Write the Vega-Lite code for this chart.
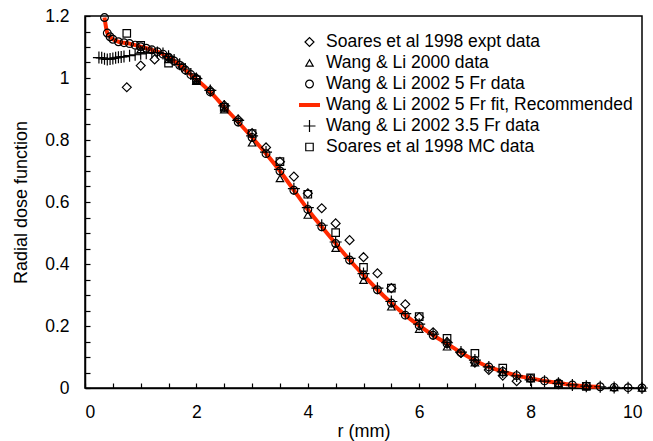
{
  "$schema": "https://vega.github.io/schema/vega-lite/v6.json",
  "width": 557,
  "height": 372,
  "autosize": {"type": "none"},
  "padding": {"left": 85, "top": 16, "right": 11, "bottom": 53},
  "background": "white",
  "config": {
    "view": {"stroke": "black", "strokeWidth": 1.5},
    "font": "Liberation Sans",
    "axis": {
      "grid": false,
      "domainColor": "black",
      "domainWidth": 1.5,
      "tickColor": "black",
      "tickWidth": 1.2,
      "labelColor": "black",
      "labelFont": "Liberation Sans",
      "labelFontSize": 17.5,
      "titleFont": "Liberation Sans",
      "titleFontSize": 18,
      "titleFontWeight": "normal",
      "titleColor": "black"
    },
    "legend": {
      "title": null, "orient": "none", "legendX": 212, "legendY": 17,
      "labelFontSize": 17.5, "labelFont": "Liberation Sans", "labelColor": "black", "labelLimit": 400,
      "rowPadding": 3, "clipHeight": 18, "labelOffset": 4, "padding": 0
    }
  },
  "data": {
    "values": [
      {"series": "Wang & Li 2002 5 Fr fit, Recommended", "r": 0.35, "g": 1.195},
      {"series": "Wang & Li 2002 5 Fr fit, Recommended", "r": 0.4, "g": 1.145},
      {"series": "Wang & Li 2002 5 Fr fit, Recommended", "r": 0.45, "g": 1.133},
      {"series": "Wang & Li 2002 5 Fr fit, Recommended", "r": 0.5, "g": 1.125},
      {"series": "Wang & Li 2002 5 Fr fit, Recommended", "r": 0.6, "g": 1.117},
      {"series": "Wang & Li 2002 5 Fr fit, Recommended", "r": 0.7, "g": 1.114},
      {"series": "Wang & Li 2002 5 Fr fit, Recommended", "r": 0.8, "g": 1.111},
      {"series": "Wang & Li 2002 5 Fr fit, Recommended", "r": 0.9, "g": 1.106},
      {"series": "Wang & Li 2002 5 Fr fit, Recommended", "r": 1.0, "g": 1.101},
      {"series": "Wang & Li 2002 5 Fr fit, Recommended", "r": 1.1, "g": 1.096},
      {"series": "Wang & Li 2002 5 Fr fit, Recommended", "r": 1.2, "g": 1.091},
      {"series": "Wang & Li 2002 5 Fr fit, Recommended", "r": 1.3, "g": 1.085},
      {"series": "Wang & Li 2002 5 Fr fit, Recommended", "r": 1.4, "g": 1.077},
      {"series": "Wang & Li 2002 5 Fr fit, Recommended", "r": 1.5, "g": 1.067},
      {"series": "Wang & Li 2002 5 Fr fit, Recommended", "r": 1.6, "g": 1.055},
      {"series": "Wang & Li 2002 5 Fr fit, Recommended", "r": 1.7, "g": 1.041},
      {"series": "Wang & Li 2002 5 Fr fit, Recommended", "r": 1.8, "g": 1.026},
      {"series": "Wang & Li 2002 5 Fr fit, Recommended", "r": 1.9, "g": 1.011},
      {"series": "Wang & Li 2002 5 Fr fit, Recommended", "r": 2.0, "g": 0.996},
      {"series": "Wang & Li 2002 5 Fr fit, Recommended", "r": 2.25, "g": 0.955},
      {"series": "Wang & Li 2002 5 Fr fit, Recommended", "r": 2.5, "g": 0.906},
      {"series": "Wang & Li 2002 5 Fr fit, Recommended", "r": 2.75, "g": 0.858},
      {"series": "Wang & Li 2002 5 Fr fit, Recommended", "r": 3.0, "g": 0.808},
      {"series": "Wang & Li 2002 5 Fr fit, Recommended", "r": 3.25, "g": 0.756},
      {"series": "Wang & Li 2002 5 Fr fit, Recommended", "r": 3.5, "g": 0.700},
      {"series": "Wang & Li 2002 5 Fr fit, Recommended", "r": 3.75, "g": 0.638},
      {"series": "Wang & Li 2002 5 Fr fit, Recommended", "r": 4.0, "g": 0.576},
      {"series": "Wang & Li 2002 5 Fr fit, Recommended", "r": 4.25, "g": 0.520},
      {"series": "Wang & Li 2002 5 Fr fit, Recommended", "r": 4.5, "g": 0.466},
      {"series": "Wang & Li 2002 5 Fr fit, Recommended", "r": 4.75, "g": 0.413},
      {"series": "Wang & Li 2002 5 Fr fit, Recommended", "r": 5.0, "g": 0.364},
      {"series": "Wang & Li 2002 5 Fr fit, Recommended", "r": 5.25, "g": 0.317},
      {"series": "Wang & Li 2002 5 Fr fit, Recommended", "r": 5.5, "g": 0.274},
      {"series": "Wang & Li 2002 5 Fr fit, Recommended", "r": 5.75, "g": 0.235},
      {"series": "Wang & Li 2002 5 Fr fit, Recommended", "r": 6.0, "g": 0.201},
      {"series": "Wang & Li 2002 5 Fr fit, Recommended", "r": 6.25, "g": 0.170},
      {"series": "Wang & Li 2002 5 Fr fit, Recommended", "r": 6.5, "g": 0.143},
      {"series": "Wang & Li 2002 5 Fr fit, Recommended", "r": 6.75, "g": 0.114},
      {"series": "Wang & Li 2002 5 Fr fit, Recommended", "r": 7.0, "g": 0.089},
      {"series": "Wang & Li 2002 5 Fr fit, Recommended", "r": 7.25, "g": 0.068},
      {"series": "Wang & Li 2002 5 Fr fit, Recommended", "r": 7.5, "g": 0.053},
      {"series": "Wang & Li 2002 5 Fr fit, Recommended", "r": 7.75, "g": 0.040},
      {"series": "Wang & Li 2002 5 Fr fit, Recommended", "r": 8.0, "g": 0.031},
      {"series": "Wang & Li 2002 5 Fr fit, Recommended", "r": 8.25, "g": 0.023},
      {"series": "Wang & Li 2002 5 Fr fit, Recommended", "r": 8.5, "g": 0.016},
      {"series": "Wang & Li 2002 5 Fr fit, Recommended", "r": 8.75, "g": 0.010},
      {"series": "Wang & Li 2002 5 Fr fit, Recommended", "r": 9.0, "g": 0.006},
      {"series": "Wang & Li 2002 5 Fr fit, Recommended", "r": 9.25, "g": 0.004},

      {"series": "Wang & Li 2002 5 Fr data", "r": 0.35, "g": 1.195},
      {"series": "Wang & Li 2002 5 Fr data", "r": 0.4, "g": 1.145},
      {"series": "Wang & Li 2002 5 Fr data", "r": 0.45, "g": 1.133},
      {"series": "Wang & Li 2002 5 Fr data", "r": 0.5, "g": 1.125},
      {"series": "Wang & Li 2002 5 Fr data", "r": 0.6, "g": 1.117},
      {"series": "Wang & Li 2002 5 Fr data", "r": 0.7, "g": 1.114},
      {"series": "Wang & Li 2002 5 Fr data", "r": 0.8, "g": 1.111},
      {"series": "Wang & Li 2002 5 Fr data", "r": 0.9, "g": 1.106},
      {"series": "Wang & Li 2002 5 Fr data", "r": 1.0, "g": 1.101},
      {"series": "Wang & Li 2002 5 Fr data", "r": 1.1, "g": 1.096},
      {"series": "Wang & Li 2002 5 Fr data", "r": 1.2, "g": 1.091},
      {"series": "Wang & Li 2002 5 Fr data", "r": 1.3, "g": 1.085},
      {"series": "Wang & Li 2002 5 Fr data", "r": 1.4, "g": 1.077},
      {"series": "Wang & Li 2002 5 Fr data", "r": 1.5, "g": 1.067},
      {"series": "Wang & Li 2002 5 Fr data", "r": 1.6, "g": 1.055},
      {"series": "Wang & Li 2002 5 Fr data", "r": 1.7, "g": 1.041},
      {"series": "Wang & Li 2002 5 Fr data", "r": 1.8, "g": 1.026},
      {"series": "Wang & Li 2002 5 Fr data", "r": 1.9, "g": 1.011},
      {"series": "Wang & Li 2002 5 Fr data", "r": 2.0, "g": 0.996},
      {"series": "Wang & Li 2002 5 Fr data", "r": 2.25, "g": 0.955},
      {"series": "Wang & Li 2002 5 Fr data", "r": 2.5, "g": 0.906},
      {"series": "Wang & Li 2002 5 Fr data", "r": 2.75, "g": 0.858},
      {"series": "Wang & Li 2002 5 Fr data", "r": 3.0, "g": 0.808},
      {"series": "Wang & Li 2002 5 Fr data", "r": 3.25, "g": 0.756},
      {"series": "Wang & Li 2002 5 Fr data", "r": 3.5, "g": 0.700},
      {"series": "Wang & Li 2002 5 Fr data", "r": 3.75, "g": 0.638},
      {"series": "Wang & Li 2002 5 Fr data", "r": 4.0, "g": 0.576},
      {"series": "Wang & Li 2002 5 Fr data", "r": 4.25, "g": 0.520},
      {"series": "Wang & Li 2002 5 Fr data", "r": 4.5, "g": 0.466},
      {"series": "Wang & Li 2002 5 Fr data", "r": 4.75, "g": 0.413},
      {"series": "Wang & Li 2002 5 Fr data", "r": 5.0, "g": 0.364},
      {"series": "Wang & Li 2002 5 Fr data", "r": 5.25, "g": 0.317},
      {"series": "Wang & Li 2002 5 Fr data", "r": 5.5, "g": 0.274},
      {"series": "Wang & Li 2002 5 Fr data", "r": 5.75, "g": 0.235},
      {"series": "Wang & Li 2002 5 Fr data", "r": 6.0, "g": 0.201},
      {"series": "Wang & Li 2002 5 Fr data", "r": 6.25, "g": 0.170},
      {"series": "Wang & Li 2002 5 Fr data", "r": 6.5, "g": 0.143},
      {"series": "Wang & Li 2002 5 Fr data", "r": 6.75, "g": 0.114},
      {"series": "Wang & Li 2002 5 Fr data", "r": 7.0, "g": 0.089},
      {"series": "Wang & Li 2002 5 Fr data", "r": 7.25, "g": 0.068},
      {"series": "Wang & Li 2002 5 Fr data", "r": 7.5, "g": 0.053},
      {"series": "Wang & Li 2002 5 Fr data", "r": 7.75, "g": 0.040},
      {"series": "Wang & Li 2002 5 Fr data", "r": 8.0, "g": 0.031},
      {"series": "Wang & Li 2002 5 Fr data", "r": 8.25, "g": 0.023},
      {"series": "Wang & Li 2002 5 Fr data", "r": 8.5, "g": 0.016},
      {"series": "Wang & Li 2002 5 Fr data", "r": 8.75, "g": 0.010},
      {"series": "Wang & Li 2002 5 Fr data", "r": 9.0, "g": 0.006},
      {"series": "Wang & Li 2002 5 Fr data", "r": 9.25, "g": 0.004},
      {"series": "Wang & Li 2002 5 Fr data", "r": 9.5, "g": 0.002},
      {"series": "Wang & Li 2002 5 Fr data", "r": 9.75, "g": 0.001},
      {"series": "Wang & Li 2002 5 Fr data", "r": 10.0, "g": 0.000},

      {"series": "Wang & Li 2002 3.5 Fr data", "r": 0.25, "g": 1.066},
      {"series": "Wang & Li 2002 3.5 Fr data", "r": 0.3, "g": 1.065},
      {"series": "Wang & Li 2002 3.5 Fr data", "r": 0.35, "g": 1.062},
      {"series": "Wang & Li 2002 3.5 Fr data", "r": 0.4, "g": 1.060},
      {"series": "Wang & Li 2002 3.5 Fr data", "r": 0.45, "g": 1.061},
      {"series": "Wang & Li 2002 3.5 Fr data", "r": 0.5, "g": 1.063},
      {"series": "Wang & Li 2002 3.5 Fr data", "r": 0.55, "g": 1.065},
      {"series": "Wang & Li 2002 3.5 Fr data", "r": 0.6, "g": 1.067},
      {"series": "Wang & Li 2002 3.5 Fr data", "r": 0.65, "g": 1.068},
      {"series": "Wang & Li 2002 3.5 Fr data", "r": 0.7, "g": 1.069},
      {"series": "Wang & Li 2002 3.5 Fr data", "r": 0.8, "g": 1.072},
      {"series": "Wang & Li 2002 3.5 Fr data", "r": 0.9, "g": 1.075},
      {"series": "Wang & Li 2002 3.5 Fr data", "r": 1.0, "g": 1.078},
      {"series": "Wang & Li 2002 3.5 Fr data", "r": 1.1, "g": 1.080},
      {"series": "Wang & Li 2002 3.5 Fr data", "r": 1.2, "g": 1.082},
      {"series": "Wang & Li 2002 3.5 Fr data", "r": 1.3, "g": 1.082},
      {"series": "Wang & Li 2002 3.5 Fr data", "r": 1.4, "g": 1.079},
      {"series": "Wang & Li 2002 3.5 Fr data", "r": 1.5, "g": 1.070},
      {"series": "Wang & Li 2002 3.5 Fr data", "r": 1.6, "g": 1.058},
      {"series": "Wang & Li 2002 3.5 Fr data", "r": 1.7, "g": 1.044},
      {"series": "Wang & Li 2002 3.5 Fr data", "r": 1.8, "g": 1.029},
      {"series": "Wang & Li 2002 3.5 Fr data", "r": 1.9, "g": 1.013},
      {"series": "Wang & Li 2002 3.5 Fr data", "r": 2.0, "g": 0.998},
      {"series": "Wang & Li 2002 3.5 Fr data", "r": 2.25, "g": 0.960},
      {"series": "Wang & Li 2002 3.5 Fr data", "r": 2.5, "g": 0.910},
      {"series": "Wang & Li 2002 3.5 Fr data", "r": 2.75, "g": 0.863},
      {"series": "Wang & Li 2002 3.5 Fr data", "r": 3.0, "g": 0.813},
      {"series": "Wang & Li 2002 3.5 Fr data", "r": 3.25, "g": 0.761},
      {"series": "Wang & Li 2002 3.5 Fr data", "r": 3.5, "g": 0.705},
      {"series": "Wang & Li 2002 3.5 Fr data", "r": 3.75, "g": 0.643},
      {"series": "Wang & Li 2002 3.5 Fr data", "r": 4.0, "g": 0.582},
      {"series": "Wang & Li 2002 3.5 Fr data", "r": 4.25, "g": 0.525},
      {"series": "Wang & Li 2002 3.5 Fr data", "r": 4.5, "g": 0.471},
      {"series": "Wang & Li 2002 3.5 Fr data", "r": 4.75, "g": 0.418},
      {"series": "Wang & Li 2002 3.5 Fr data", "r": 5.0, "g": 0.369},
      {"series": "Wang & Li 2002 3.5 Fr data", "r": 5.25, "g": 0.322},
      {"series": "Wang & Li 2002 3.5 Fr data", "r": 5.5, "g": 0.279},
      {"series": "Wang & Li 2002 3.5 Fr data", "r": 5.75, "g": 0.240},
      {"series": "Wang & Li 2002 3.5 Fr data", "r": 6.0, "g": 0.206},
      {"series": "Wang & Li 2002 3.5 Fr data", "r": 6.25, "g": 0.174},
      {"series": "Wang & Li 2002 3.5 Fr data", "r": 6.5, "g": 0.146},
      {"series": "Wang & Li 2002 3.5 Fr data", "r": 6.75, "g": 0.116},
      {"series": "Wang & Li 2002 3.5 Fr data", "r": 7.0, "g": 0.090},
      {"series": "Wang & Li 2002 3.5 Fr data", "r": 7.25, "g": 0.068},
      {"series": "Wang & Li 2002 3.5 Fr data", "r": 7.5, "g": 0.052},
      {"series": "Wang & Li 2002 3.5 Fr data", "r": 7.75, "g": 0.039},
      {"series": "Wang & Li 2002 3.5 Fr data", "r": 8.0, "g": 0.026},
      {"series": "Wang & Li 2002 3.5 Fr data", "r": 8.25, "g": 0.022},
      {"series": "Wang & Li 2002 3.5 Fr data", "r": 8.5, "g": 0.015},
      {"series": "Wang & Li 2002 3.5 Fr data", "r": 8.75, "g": 0.010},
      {"series": "Wang & Li 2002 3.5 Fr data", "r": 9.0, "g": 0.006},
      {"series": "Wang & Li 2002 3.5 Fr data", "r": 9.25, "g": 0.004},
      {"series": "Wang & Li 2002 3.5 Fr data", "r": 9.5, "g": 0.002},
      {"series": "Wang & Li 2002 3.5 Fr data", "r": 9.75, "g": 0.001},
      {"series": "Wang & Li 2002 3.5 Fr data", "r": 10.0, "g": 0.000},

      {"series": "Soares et al 1998  expt data", "r": 0.75, "g": 0.970},
      {"series": "Soares et al 1998  expt data", "r": 1.0, "g": 1.040},
      {"series": "Soares et al 1998  expt data", "r": 1.25, "g": 1.060},
      {"series": "Soares et al 1998  expt data", "r": 1.5, "g": 1.066},
      {"series": "Soares et al 1998  expt data", "r": 1.75, "g": 1.036},
      {"series": "Soares et al 1998  expt data", "r": 2.0, "g": 1.000},
      {"series": "Soares et al 1998  expt data", "r": 2.25, "g": 0.960},
      {"series": "Soares et al 1998  expt data", "r": 2.5, "g": 0.912},
      {"series": "Soares et al 1998  expt data", "r": 2.75, "g": 0.866},
      {"series": "Soares et al 1998  expt data", "r": 3.0, "g": 0.822},
      {"series": "Soares et al 1998  expt data", "r": 3.25, "g": 0.776},
      {"series": "Soares et al 1998  expt data", "r": 3.5, "g": 0.730},
      {"series": "Soares et al 1998  expt data", "r": 3.75, "g": 0.682},
      {"series": "Soares et al 1998  expt data", "r": 4.0, "g": 0.628},
      {"series": "Soares et al 1998  expt data", "r": 4.25, "g": 0.580},
      {"series": "Soares et al 1998  expt data", "r": 4.5, "g": 0.531},
      {"series": "Soares et al 1998  expt data", "r": 4.75, "g": 0.477},
      {"series": "Soares et al 1998  expt data", "r": 5.0, "g": 0.422},
      {"series": "Soares et al 1998  expt data", "r": 5.25, "g": 0.370},
      {"series": "Soares et al 1998  expt data", "r": 5.5, "g": 0.322},
      {"series": "Soares et al 1998  expt data", "r": 5.75, "g": 0.270},
      {"series": "Soares et al 1998  expt data", "r": 6.0, "g": 0.228},
      {"series": "Soares et al 1998  expt data", "r": 6.25, "g": 0.180},
      {"series": "Soares et al 1998  expt data", "r": 6.5, "g": 0.148},
      {"series": "Soares et al 1998  expt data", "r": 6.75, "g": 0.113},
      {"series": "Soares et al 1998  expt data", "r": 7.0, "g": 0.082},
      {"series": "Soares et al 1998  expt data", "r": 7.25, "g": 0.058},
      {"series": "Soares et al 1998  expt data", "r": 7.5, "g": 0.040},
      {"series": "Soares et al 1998  expt data", "r": 7.75, "g": 0.022},

      {"series": "Soares et al 1998 MC data", "r": 0.75, "g": 1.144},
      {"series": "Soares et al 1998 MC data", "r": 1.0, "g": 1.105},
      {"series": "Soares et al 1998 MC data", "r": 1.5, "g": 1.048},
      {"series": "Soares et al 1998 MC data", "r": 2.0, "g": 0.994},
      {"series": "Soares et al 1998 MC data", "r": 2.5, "g": 0.905},
      {"series": "Soares et al 1998 MC data", "r": 3.0, "g": 0.821},
      {"series": "Soares et al 1998 MC data", "r": 3.5, "g": 0.730},
      {"series": "Soares et al 1998 MC data", "r": 4.0, "g": 0.625},
      {"series": "Soares et al 1998 MC data", "r": 4.5, "g": 0.501},
      {"series": "Soares et al 1998 MC data", "r": 5.0, "g": 0.389},
      {"series": "Soares et al 1998 MC data", "r": 5.5, "g": 0.322},
      {"series": "Soares et al 1998 MC data", "r": 6.0, "g": 0.230},
      {"series": "Soares et al 1998 MC data", "r": 6.5, "g": 0.160},
      {"series": "Soares et al 1998 MC data", "r": 7.0, "g": 0.112},
      {"series": "Soares et al 1998 MC data", "r": 7.5, "g": 0.064},
      {"series": "Soares et al 1998 MC data", "r": 8.0, "g": 0.033},
      {"series": "Soares et al 1998 MC data", "r": 8.5, "g": 0.012},
      {"series": "Soares et al 1998 MC data", "r": 9.0, "g": 0.005},

      {"series": "Wang & Li 2000 data", "r": 1.0, "g": 1.092},
      {"series": "Wang & Li 2000 data", "r": 1.5, "g": 1.060},
      {"series": "Wang & Li 2000 data", "r": 2.0, "g": 0.990},
      {"series": "Wang & Li 2000 data", "r": 2.5, "g": 0.898},
      {"series": "Wang & Li 2000 data", "r": 3.0, "g": 0.791},
      {"series": "Wang & Li 2000 data", "r": 3.5, "g": 0.676},
      {"series": "Wang & Li 2000 data", "r": 4.0, "g": 0.558},
      {"series": "Wang & Li 2000 data", "r": 4.5, "g": 0.451},
      {"series": "Wang & Li 2000 data", "r": 5.0, "g": 0.348},
      {"series": "Wang & Li 2000 data", "r": 5.5, "g": 0.262},
      {"series": "Wang & Li 2000 data", "r": 6.0, "g": 0.190},
      {"series": "Wang & Li 2000 data", "r": 6.5, "g": 0.133},
      {"series": "Wang & Li 2000 data", "r": 7.0, "g": 0.082},
      {"series": "Wang & Li 2000 data", "r": 7.5, "g": 0.050},
      {"series": "Wang & Li 2000 data", "r": 8.0, "g": 0.030},
      {"series": "Wang & Li 2000 data", "r": 8.5, "g": 0.014},
      {"series": "Wang & Li 2000 data", "r": 9.0, "g": 0.006},
      {"series": "Wang & Li 2000 data", "r": 9.5, "g": 0.002},
      {"series": "Wang & Li 2000 data", "r": 10.0, "g": 0.000}
    ]
  },
  "encoding": {
    "x": {
      "field": "r", "type": "quantitative",
      "scale": {"domain": [0, 10], "nice": false, "zero": false},
      "axis": {
        "title": "r (mm)",
        "values": [0,0.5,1,1.5,2,2.5,3,3.5,4,4.5,5,5.5,6,6.5,7,7.5,8,8.5,9,9.5,10],
        "tickSize": -5,
        "labelPadding": 20,
        "labelExpr": "round(datum.value*10) % 20 == 0 ? format(datum.value, 'd') : ''",
        "titlePadding": 2
      }
    },
    "y": {
      "field": "g", "type": "quantitative",
      "scale": {"domain": [0, 1.2], "nice": false},
      "axis": {
        "title": "Radial dose function",
        "values": [0,0.05,0.1,0.15,0.2,0.25,0.3,0.35,0.4,0.45,0.5,0.55,0.6,0.65,0.7,0.75,0.8,0.85,0.9,0.95,1,1.05,1.1,1.15,1.2],
        "tickSize": -5,
        "labelPadding": 21,
        "labelExpr": "round(datum.value*100) % 20 == 0 ? format(datum.value, '~g') : ''",
        "titlePadding": 14
      }
    }
  },
  "layer": [
    {
      "transform": [{"filter": {"field": "series", "equal": "Wang & Li 2002 5 Fr fit, Recommended"}}],
      "mark": {"type": "line", "interpolate": "monotone"},
      "encoding": {
        "stroke": {
          "field": "series", "type": "nominal",
          "scale": {
            "domain": ["Soares et al 1998  expt data", "Wang & Li 2000 data", "Wang & Li 2002 5 Fr data", "Wang & Li 2002 5 Fr fit, Recommended", "Wang & Li 2002 3.5 Fr data", "Soares et al 1998 MC data"],
            "range": ["black", "black", "black", "#ff2a00", "black", "black"]
          },
          "legend": {"title": null}
        },
        "strokeWidth": {
          "field": "series", "type": "nominal",
          "scale": {
            "type": "ordinal",
            "domain": ["Soares et al 1998  expt data", "Wang & Li 2000 data", "Wang & Li 2002 5 Fr data", "Wang & Li 2002 5 Fr fit, Recommended", "Wang & Li 2002 3.5 Fr data", "Soares et al 1998 MC data"],
            "range": [1.2, 1.2, 1.2, 4, 1.2, 1.2]
          },
          "legend": {"title": null}
        }
      }
    },
    {
      "transform": [{"filter": {"not": {"field": "series", "equal": "Wang & Li 2002 5 Fr fit, Recommended"}}}],
      "mark": {"type": "point", "filled": false, "opacity": 1},
      "encoding": {
        "stroke": {
          "field": "series", "type": "nominal",
          "scale": {
            "domain": ["Soares et al 1998  expt data", "Wang & Li 2000 data", "Wang & Li 2002 5 Fr data", "Wang & Li 2002 5 Fr fit, Recommended", "Wang & Li 2002 3.5 Fr data", "Soares et al 1998 MC data"],
            "range": ["black", "black", "black", "#ff2a00", "black", "black"]
          },
          "legend": {"title": null}
        },
        "strokeWidth": {
          "field": "series", "type": "nominal",
          "scale": {
            "type": "ordinal",
            "domain": ["Soares et al 1998  expt data", "Wang & Li 2000 data", "Wang & Li 2002 5 Fr data", "Wang & Li 2002 5 Fr fit, Recommended", "Wang & Li 2002 3.5 Fr data", "Soares et al 1998 MC data"],
            "range": [1.2, 1.2, 1.2, 4, 1.2, 1.2]
          },
          "legend": {"title": null}
        },
        "shape": {
          "field": "series", "type": "nominal",
          "scale": {
            "domain": ["Soares et al 1998  expt data", "Wang & Li 2000 data", "Wang & Li 2002 5 Fr data", "Wang & Li 2002 5 Fr fit, Recommended", "Wang & Li 2002 3.5 Fr data", "Soares et al 1998 MC data"],
            "range": ["diamond", "triangle-up", "circle", "stroke", "M-1,0L1,0M0,-1L0,1", "square"]
          },
          "legend": {"title": null}
        },
        "size": {
          "field": "series", "type": "nominal",
          "scale": {
            "type": "ordinal",
            "domain": ["Soares et al 1998  expt data", "Wang & Li 2000 data", "Wang & Li 2002 5 Fr data", "Wang & Li 2002 5 Fr fit, Recommended", "Wang & Li 2002 3.5 Fr data", "Soares et al 1998 MC data"],
            "range": [80, 55, 60, 441, 144, 56]
          },
          "legend": {"title": null}
        }
      }
    }
  ]
}
